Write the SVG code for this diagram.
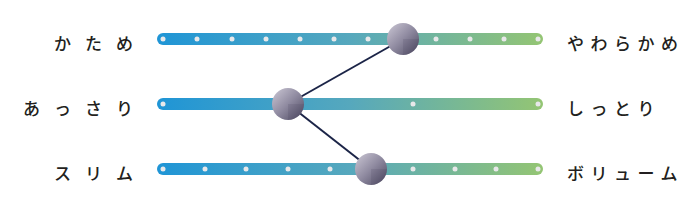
<svg xmlns="http://www.w3.org/2000/svg" width="700" height="208" viewBox="0 0 700 208">
<defs>
<linearGradient id="bar" x1="157" y1="0" x2="543" y2="0" gradientUnits="userSpaceOnUse">
<stop offset="0" stop-color="#1f95d6"/>
<stop offset="0.5" stop-color="#56a8bd"/>
<stop offset="1" stop-color="#94c573"/>
</linearGradient>
<linearGradient id="ball" x1="0" y1="0" x2="1" y2="1">
<stop offset="0" stop-color="#cdc9d6"/>
<stop offset="0.5" stop-color="#8f8aa0"/>
<stop offset="1" stop-color="#4a465e"/>
</linearGradient>
<clipPath id="q"><rect x="0" y="0" width="17" height="17"/></clipPath>
<g id="sphere">
<circle r="16" fill="url(#ball)"/>
<circle r="16" fill="#3e3a55" opacity="0.14" clip-path="url(#q)"/>
</g>
</defs>
<style>
.bar{fill:url(#bar)}
.dot{fill:#e8e8ea}
.lbl{font-family:"Noto Sans CJK JP",sans-serif;font-size:17px;font-weight:500;fill:#231f20}
.l{letter-spacing:14px;text-anchor:end}
.r{letter-spacing:6.5px}
.con{stroke:#1b2447;stroke-width:2;fill:none}
</style>
<g id="connectors">
<line class="con" x1="403" y1="39" x2="288" y2="104"/>
<line class="con" x1="288" y1="104" x2="371" y2="169"/>
</g>
<g id="row1">
<rect class="bar" x="157" y="33" width="386" height="12" rx="6"/>
<g class="dots">
<circle class="dot" cx="163" cy="39" r="2.5"/><circle class="dot" cx="197" cy="39" r="2.5"/><circle class="dot" cx="232" cy="39" r="2.5"/><circle class="dot" cx="266" cy="39" r="2.5"/><circle class="dot" cx="300" cy="39" r="2.5"/><circle class="dot" cx="334" cy="39" r="2.5"/><circle class="dot" cx="368" cy="39" r="2.5"/><circle class="dot" cx="436" cy="39" r="2.5"/><circle class="dot" cx="470" cy="39" r="2.5"/><circle class="dot" cx="504" cy="39" r="2.5"/><circle class="dot" cx="538" cy="39" r="2.5"/>
</g>
<text class="lbl l" x="147" y="50">かため</text>
<text class="lbl r" x="567" y="50">やわらかめ</text>
</g>
<g id="row2">
<rect class="bar" x="157" y="98" width="386" height="12" rx="6"/>
<circle class="dot" cx="163" cy="104" r="2.5"/><circle class="dot" cx="413" cy="104" r="2.5"/><circle class="dot" cx="538" cy="104" r="2.5"/>
<text class="lbl l" x="147" y="115">あっさり</text>
<text class="lbl r" x="567" y="115">しっとり</text>
</g>
<g id="row3">
<rect class="bar" x="157" y="163" width="386" height="12" rx="6"/>
<circle class="dot" cx="163" cy="169" r="2.5"/><circle class="dot" cx="205" cy="169" r="2.5"/><circle class="dot" cx="246" cy="169" r="2.5"/><circle class="dot" cx="288" cy="169" r="2.5"/><circle class="dot" cx="330" cy="169" r="2.5"/><circle class="dot" cx="413" cy="169" r="2.5"/><circle class="dot" cx="455" cy="169" r="2.5"/><circle class="dot" cx="496" cy="169" r="2.5"/><circle class="dot" cx="538" cy="169" r="2.5"/>
<text class="lbl l" x="147" y="180">スリム</text>
<text class="lbl r" x="567" y="180">ボリューム</text>
</g>
<g id="ball1"><use href="#sphere" x="403" y="39"/></g>
<g id="ball2"><use href="#sphere" x="288" y="104"/></g>
<g id="ball3"><use href="#sphere" x="371" y="169"/></g>
</svg>
